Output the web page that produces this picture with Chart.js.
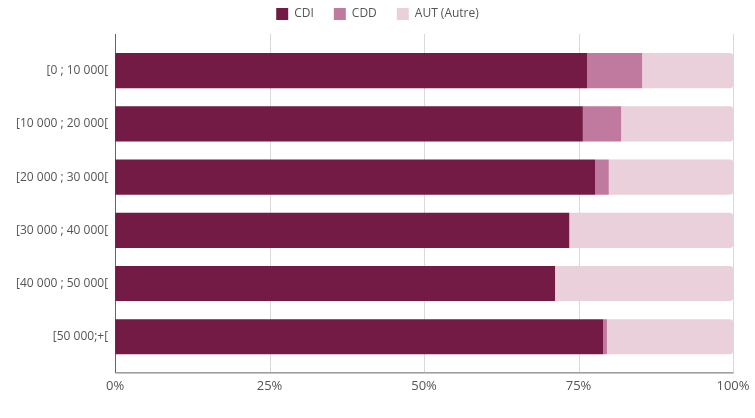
<!DOCTYPE html>
<html>
<head>
<meta charset="utf-8">
<script src="https://cdn.jsdelivr.net/npm/chart.js@4/dist/chart.umd.min.js"></script>
<style>
  html, body { margin: 0; padding: 0; background: #fff; }
  #wrap { width: 755px; height: 418px; }
</style>
</head>
<body>
<div id="wrap"><canvas id="chart"></canvas></div>
<script>
// salary brackets (y axis)
const categories = [
  '[0 ; 10 000[',
  '[10 000 ; 20 000[',
  '[20 000 ; 30 000[',
  '[30 000 ; 40 000[',
  '[40 000 ; 50 000[',
  '[50 000;+['
];

// share of contracts, in %
const cdi = [76.4, 75.7, 77.7, 73.5, 71.2, 79.0];
const cdd = [8.9, 6.2, 2.2, 0, 0, 0.6];
const aut = [14.7, 18.1, 20.1, 26.5, 28.8, 20.4];

const xTicks = [0, 25, 50, 75, 100];

// axis lines and grid run a little past the bars, above and below
const EXT = 10;
const axisFrame = {
  id: 'axisFrame',
  beforeLayout(chart) {
    // leave more room between legend and plot
    const lg = chart.legend;
    if (lg && !lg._extraGap) {
      const fit = lg.fit;
      lg.fit = function () { fit.call(this); this.height += 14; };
      lg._extraGap = true;
    }
  },
  beforeDatasetsDraw(chart) {
    const { ctx, chartArea: a, scales: { x } } = chart;
    const top = a.top - EXT;
    const bottom = a.bottom + EXT - 1;
    ctx.save();
    ctx.lineWidth = 1;
    ctx.strokeStyle = '#d9d9d9';
    xTicks.forEach(v => {
      if (v === 0) return;
      const px = Math.round(x.getPixelForValue(v)) + 0.5;
      ctx.beginPath();
      ctx.moveTo(px, top);
      ctx.lineTo(px, bottom);
      ctx.stroke();
    });
    ctx.strokeStyle = '#666';
    const left = Math.round(x.getPixelForValue(0)) + 0.5;
    const right = Math.round(x.getPixelForValue(100)) + 0.5;
    ctx.beginPath();
    ctx.moveTo(left, top);
    ctx.lineTo(left, bottom + 0.5);
    ctx.lineTo(right, bottom + 0.5);
    ctx.stroke();
    ctx.restore();
  }
};

new Chart(document.getElementById('chart'), {
  type: 'bar',
  data: {
    labels: categories,
    datasets: [
      { label: 'CDI', data: cdi, backgroundColor: '#731b44' },
      { label: 'CDD', data: cdd, backgroundColor: '#c07a9f' },
      { label: 'AUT (Autre)', data: aut, backgroundColor: '#ead0da', borderRadius: 3 }
    ]
  },
  options: {
    indexAxis: 'y',
    responsive: true,
    maintainAspectRatio: false,
    animation: false,
    datasets: {
      bar: { barPercentage: 0.66, categoryPercentage: 1 }
    },
    layout: { padding: { top: -12, right: 0, bottom: 17, left: 0 } },
    plugins: {
      legend: {
        position: 'top',
        labels: {
          boxWidth: 12,
          boxHeight: 12,
          padding: 20,
          color: '#555',
          font: { family: 'Open Sans', size: 12 }
        }
      },
      tooltip: { enabled: false }
    },
    scales: {
      x: {
        stacked: true,
        min: 0,
        max: 100,
        afterBuildTicks: s => { s.ticks = xTicks.map(v => ({ value: v })); },
        afterFit: s => { s.paddingRight = 22; },
        grid: { display: false },
        border: { display: false },
        ticks: {
          padding: 7,
          color: '#555',
          font: { family: 'Open Sans', size: 13 },
          callback: v => v + '%'
        }
      },
      y: {
        stacked: true,
        afterFit: s => { s.width += 9; },
        grid: { display: false, drawTicks: false },
        border: { display: false },
        ticks: {
          padding: 7,
          color: '#555',
          font: { family: 'Open Sans', size: 12 }
        }
      }
    }
  },
  plugins: [axisFrame]
});
</script>
</body>
</html>
